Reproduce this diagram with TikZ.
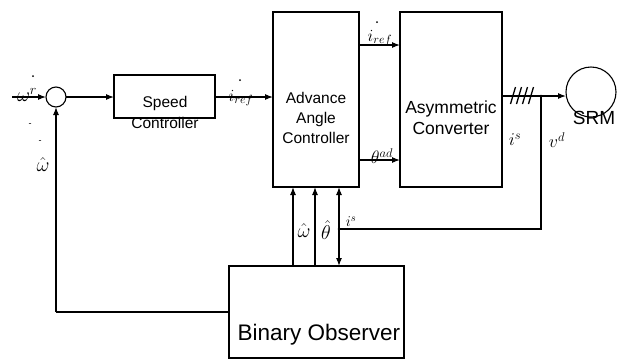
\RequirePackage{fix-cm}
\documentclass[tikz,border=0pt]{standalone}
\usepackage{fontspec}
\setmainfont{Liberation Sans}
\usetikzlibrary{arrows.meta}
\begin{document}
\begin{tikzpicture}[x=1pt,y=-1pt,line width=1.1pt,
  arr/.style={-{Latex[length=8pt,width=6pt]}},
  blk/.style={draw,rectangle,inner sep=0pt,outer sep=0pt},
  txt/.style={inner sep=0pt,align=center},
  lbl/.style={inner sep=0pt,font=\fontsize{18}{18}\selectfont},
  dotmark/.style={fill,circle,inner sep=0pt,minimum size=2.6pt}]
\useasboundingbox (0,0) rectangle (630,360);
% blocks
\node[draw,circle,minimum size=20pt,inner sep=0pt,outer sep=0pt] (sum) at (56,97) {};
\node[blk,minimum width=101pt,minimum height=43pt] (speed) at (164.5,96.5) {};
\node[txt,font=\fontsize{15.5}{21}\selectfont] (speedtxt) at (165,112.5) {Speed\\Controller};
\node[blk,minimum width=86pt,minimum height=175pt] (adv) at (316,99.5) {};
\node[txt,font=\fontsize{15.5}{20}\selectfont] (advtxt) at (316,118) {Advance\\Angle\\Controller};
\node[blk,minimum width=102pt,minimum height=175pt] (conv) at (451,99.5) {};
\node[txt,font=\fontsize{17.5}{21}\selectfont] (convtxt) at (451,117.5) {Asymmetric\\Converter};
\node[blk,minimum width=175pt,minimum height=92pt] (obs) at (316.5,312) {};
\node[txt,font=\fontsize{22.5}{24}\selectfont] (obstxt) at (319,335) {Binary Observer};
\node[draw,circle,minimum size=50pt,inner sep=0pt,outer sep=0pt] (srm) at (591,92) {};
\node[txt,font=\fontsize{19}{20}\selectfont] (srmtxt) at (594,118) {SRM};
% coordinates
\coordinate (in) at (12,97);
\coordinate (jn) at (541,96);
\coordinate (is) at (339,229);
\coordinate (fb) at (56,312);
% connectors
\draw[arr] (in) -- (sum);
\draw[arr] (sum) -- (speed.west |- sum);
\draw[arr] (speed.east |- sum) -- (adv.west |- sum);
\draw[arr] (adv.east |- 0,45) -- (conv.west |- 0,45);
\draw[arr] (adv.east |- 0,160) -- (conv.west |- 0,160);
\draw[arr] (conv.east |- jn) -- (jn -| 566,0);
\node[dotmark] (jndot) at (jn) {};
\draw (jn) -- (jn |- is) -- (is);
\node[dotmark] (isdot) at (is) {};
\draw[arr] (is) -- (is |- adv.south);
\draw[arr] (is) -- (is |- obs.north);
\draw[arr] (obs.north -| 293,0) -- (adv.south -| 293,0);
\draw[arr] (obs.north -| 315,0) -- (adv.south -| 315,0);
\draw (obs.west |- fb) -- (fb);
\draw[arr] (fb) -- (sum.south);
% hatch marks
\foreach \hx in {513,519,525,531}{
  \draw[line width=1.3pt] (\hx-2.5,104) -- (\hx+2.5,87);
}
% labels
\node[lbl,font=\fontsize{20}{20}\selectfont] (wr) at (27,95) {$\omega^{r}$};
\node[dotmark,minimum size=2pt] (wrdot) at (33,76) {};
\node[lbl,font=\fontsize{9}{9}\selectfont] (m1) at (30,125) {-};
\node[lbl,font=\fontsize{9}{9}\selectfont] (m2) at (40,142) {-};
\node[lbl,font=\fontsize{20}{20}\selectfont] (wh) at (43,165) {$\hat{\omega}$};
\node[lbl,font=\fontsize{17}{17}\selectfont] (iref1) at (241,98) {$i_{ref}$};
\node[dotmark,minimum size=2pt] (iref1dot) at (240,80) {};
\node[lbl,font=\fontsize{17}{17}\selectfont] (iref2) at (380,38) {$i_{ref}$};
\node[dotmark,minimum size=2pt] (iref2dot) at (377,22) {};
\node[lbl] (thad) at (382,156) {$\theta^{ad}$};
\node[lbl] (isl) at (515,140) {$i^{s}$};
\node[lbl] (vdl) at (557,140) {$v^{d}$};
\node[lbl,font=\fontsize{20}{20}\selectfont] (whl) at (304,231) {$\hat{\omega}$};
\node[lbl,font=\fontsize{20}{20}\selectfont] (thl) at (326,230) {$\hat{\theta}$};
\node[lbl,font=\fontsize{15}{15}\selectfont] (isl2) at (351,222) {$i^{s}$};
\end{tikzpicture}
\end{document}
